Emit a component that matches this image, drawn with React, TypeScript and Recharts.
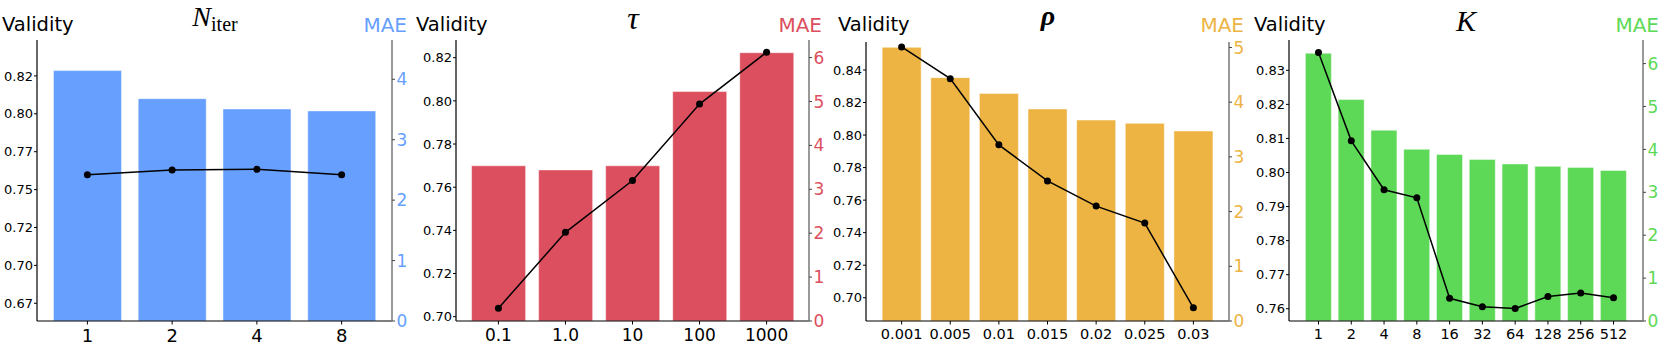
import React from 'react';
import { ComposedChart, Bar, Line, XAxis, YAxis } from 'recharts';

// ---------- Data ----------
const niterCategories = ['1', '2', '4', '8'];
const niterValidity = [0.8285, 0.81, 0.8032, 0.8019];
const niterMAE = [2.42, 2.5, 2.51, 2.42];
const niterValidityTicks = [0.675, 0.7, 0.725, 0.75, 0.775, 0.8, 0.825];
const niterValidityTickLabels = ['0.67', '0.70', '0.72', '0.75', '0.77', '0.80', '0.82'];
const niterMAETicks = [0, 1, 2, 3, 4];

const tauCategories = ['0.1', '1.0', '10', '100', '1000'];
const tauValidity = [0.7699, 0.768, 0.7699, 0.8043, 0.8223];
const tauMAE = [0.29, 2.02, 3.2, 4.94, 6.12];
const tauValidityTicks = [0.7, 0.72, 0.74, 0.76, 0.78, 0.8, 0.82];
const tauValidityTickLabels = ['0.70', '0.72', '0.74', '0.76', '0.78', '0.80', '0.82'];
const tauMAETicks = [0, 1, 2, 3, 4, 5, 6];

const rhoCategories = ['0.001', '0.005', '0.01', '0.015', '0.02', '0.025', '0.03'];
const rhoValidity = [0.8539, 0.8353, 0.8256, 0.816, 0.8092, 0.8072, 0.8025];
const rhoMAE = [5.01, 4.43, 3.22, 2.56, 2.1, 1.79, 0.24];
const rhoValidityTicks = [0.7, 0.72, 0.74, 0.76, 0.78, 0.8, 0.82, 0.84];
const rhoValidityTickLabels = ['0.70', '0.72', '0.74', '0.76', '0.78', '0.80', '0.82', '0.84'];
const rhoMAETicks = [0, 1, 2, 3, 4, 5];

const kCategories = ['1', '2', '4', '8', '16', '32', '64', '128', '256', '512'];
const kValidity = [0.835, 0.8214, 0.8124, 0.8068, 0.8053, 0.8038, 0.8025, 0.8018, 0.8015, 0.8006];
const kMAE = [6.26, 4.2, 3.06, 2.87, 0.53, 0.33, 0.29, 0.57, 0.65, 0.54];
const kValidityTicks = [0.76, 0.77, 0.78, 0.79, 0.8, 0.81, 0.82, 0.83];
const kValidityTickLabels = ['0.76', '0.77', '0.78', '0.79', '0.80', '0.81', '0.82', '0.83'];
const kMAETicks = [0, 1, 2, 3, 4, 5, 6];

// ---------- Layout / style ----------
const FONT = 'DejaVu Sans';
const AXW = 50;
const XH = 30;

type Panel = {
  key: string;
  categories: string[];
  validity: number[];
  mae: number[];
  vTicks: number[];
  vLabels: string[];
  mTicks: number[];
  vDomain: [number, number];
  mDomain: [number, number];
  color: string;
  plotLeft: number;
  plotRight: number;
  plotTop: number;
  plotBottom: number;
  pad: number;
  xFont: number;
  validityX: number;
  maeRight: number;
  title: React.ReactNode;
};

const buildRows = (cats: string[], v: number[], m: number[]) =>
  cats.map((c, i) => ({ cat: c, validity: v[i], mae: m[i] }));

const panels: Panel[] = [
  {
    key: 'niter',
    categories: niterCategories,
    validity: niterValidity,
    mae: niterMAE,
    vTicks: niterValidityTicks,
    vLabels: niterValidityTickLabels,
    mTicks: niterMAETicks,
    vDomain: [0.6633, 0.8487],
    mDomain: [0, 4.65],
    color: '#679FFF',
    plotLeft: 37,
    plotRight: 392,
    plotTop: 40,
    plotBottom: 321,
    pad: 8,
    xFont: 18,
    validityX: 2,
    maeRight: 407,
    title: (
      <text x={215} y={25.5} textAnchor="middle" fontFamily="Liberation Serif" fill="#000">
        <tspan fontStyle="italic" fontSize={28}>N</tspan>
        <tspan fontSize={20} dy={5}>iter</tspan>
      </text>
    ),
  },
  {
    key: 'tau',
    categories: tauCategories,
    validity: tauValidity,
    mae: tauMAE,
    vTicks: tauValidityTicks,
    vLabels: tauValidityTickLabels,
    mTicks: tauMAETicks,
    vDomain: [0.698, 0.8282],
    mDomain: [0, 6.4],
    color: '#DC4F5E',
    plotLeft: 456,
    plotRight: 809,
    plotTop: 40,
    plotBottom: 321,
    pad: 8.9,
    xFont: 17,
    validityX: 416,
    maeRight: 822,
    title: (
      <text x={633} y={29} textAnchor="middle" fontFamily="Liberation Serif" fontStyle="italic" fontSize={32} fill="#000">
        τ
      </text>
    ),
  },
  {
    key: 'rho',
    categories: rhoCategories,
    validity: rhoValidity,
    mae: rhoMAE,
    vTicks: rhoValidityTicks,
    vLabels: rhoValidityTickLabels,
    mTicks: rhoMAETicks,
    vDomain: [0.6857, 0.8572],
    mDomain: [0, 5.1],
    color: '#EDB444',
    plotLeft: 866,
    plotRight: 1229,
    plotTop: 42,
    plotBottom: 321,
    pad: 11.3,
    xFont: 14.5,
    validityX: 838,
    maeRight: 1244,
    title: (
      <text x={1048} y={25} textAnchor="middle" fontFamily="Liberation Serif" fontStyle="italic" fontWeight="bold" fontSize={28} fill="#000">
        ρ
      </text>
    ),
  },
  {
    key: 'k',
    categories: kCategories,
    validity: kValidity,
    mae: kMAE,
    vTicks: kValidityTicks,
    vLabels: kValidityTickLabels,
    mTicks: kMAETicks,
    vDomain: [0.7564, 0.8389],
    mDomain: [0, 6.55],
    color: '#5ED957',
    plotLeft: 1289,
    plotRight: 1643,
    plotTop: 40,
    plotBottom: 321,
    pad: 13.1,
    xFont: 14.5,
    validityX: 1254,
    maeRight: 1659,
    title: (
      <text x={1466} y={30.5} textAnchor="middle" fontFamily="Liberation Serif" fontStyle="italic" fontSize={30} fill="#000">
        K
      </text>
    ),
  },
];

function PanelChart({ p }: { p: Panel }) {
  const data = buildRows(p.categories, p.validity, p.mae);
  const width = p.plotRight - p.plotLeft + 2 * AXW;
  const labelFor = (v: number) => {
    const i = p.vTicks.indexOf(v);
    return i >= 0 ? p.vLabels[i] : String(v);
  };
  const xTick = (props: any) => (
    <text
      x={props.x}
      y={props.y}
      dy="0.72em"
      textAnchor="middle"
      fontFamily={FONT}
      fontSize={p.xFont}
      fill="#000"
    >
      {props.payload.value}
    </text>
  );
  const leftTick = (props: any) => (
    <text
      x={props.x}
      y={props.y}
      dy="0.36em"
      textAnchor="end"
      fontFamily={FONT}
      fontSize={13}
      fill="#000"
    >
      {labelFor(props.payload.value)}
    </text>
  );
  const rightTick = (props: any) => (
    <text
      x={props.x}
      y={props.y}
      dy="0.36em"
      textAnchor="start"
      fontFamily={FONT}
      fontSize={17}
      fill={p.color}
    >
      {props.payload.value}
    </text>
  );
  return (
    <div style={{ position: 'absolute', left: p.plotLeft - AXW, top: 0 }}>
      <ComposedChart
        width={width}
        height={352}
        data={data}
        margin={{ top: p.plotTop, right: 0, left: 0, bottom: 352 - p.plotBottom - XH }}
        barCategoryGap="10%"
      >
        <XAxis
          dataKey="cat"
          xAxisId="bottom"
          height={XH}
          padding={{ left: p.pad, right: p.pad }}
          axisLine={{ stroke: '#000', strokeWidth: 1.2 }}
          tickLine={{ stroke: '#000' }}
          tickSize={3.5}
          tickMargin={4.5}
          interval={0}
          tick={xTick}
        />
        <XAxis
          dataKey="cat"
          xAxisId="top"
          orientation="top"
          height={0}
          padding={{ left: p.pad, right: p.pad }}
          axisLine={{ stroke: '#000', strokeWidth: 1.2 }}
          tick={false}
          tickLine={false}
        />
        <YAxis
          yAxisId="left"
          orientation="left"
          width={AXW}
          domain={p.vDomain}
          allowDataOverflow
          ticks={p.vTicks}
          interval={0}
          axisLine={{ stroke: '#000', strokeWidth: 1.2 }}
          tickLine={{ stroke: '#000' }}
          tickSize={3}
          tickMargin={1}
          tick={leftTick}
        />
        <YAxis
          yAxisId="right"
          orientation="right"
          width={AXW}
          domain={p.mDomain}
          allowDataOverflow
          ticks={p.mTicks}
          interval={0}
          axisLine={{ stroke: '#777', strokeWidth: 1.5 }}
          tickLine={{ stroke: '#444' }}
          tickSize={3}
          tickMargin={1.5}
          tick={rightTick}
        />
        <Bar
          dataKey="validity"
          xAxisId="bottom"
          yAxisId="left"
          fill={p.color}
          stroke="rgba(255,255,255,0.45)"
          strokeWidth={1}
          isAnimationActive={false}
        />
        <Line
          dataKey="mae"
          xAxisId="bottom"
          yAxisId="right"
          type="linear"
          stroke="#000"
          strokeWidth={1.5}
          dot={{ r: 3.5, fill: '#000', stroke: '#000', strokeWidth: 0 }}
          activeDot={false}
          isAnimationActive={false}
        />
      </ComposedChart>
    </div>
  );
}

export default function App() {
  return (
    <div
      style={{
        position: 'absolute',
        left: 0,
        top: 0,
        width: 1661,
        height: 352,
        background: '#fff',
        overflow: 'hidden',
      }}
    >
      {panels.map((p) => (
        <PanelChart key={p.key} p={p} />
      ))}
      <svg width={1661} height={352} style={{ position: 'absolute', left: 0, top: 0, pointerEvents: 'none' }}>
        {panels.map((p) => (
          <g key={p.key}>
            <text x={p.validityX} y={30.5} fontFamily={FONT} fontSize={19.5} fill="#000">
              Validity
            </text>
            <text x={p.maeRight} y={32} textAnchor="end" fontFamily={FONT} fontSize={20} fill={p.color}>
              MAE
            </text>
            {p.title}
          </g>
        ))}
      </svg>
    </div>
  );
}
